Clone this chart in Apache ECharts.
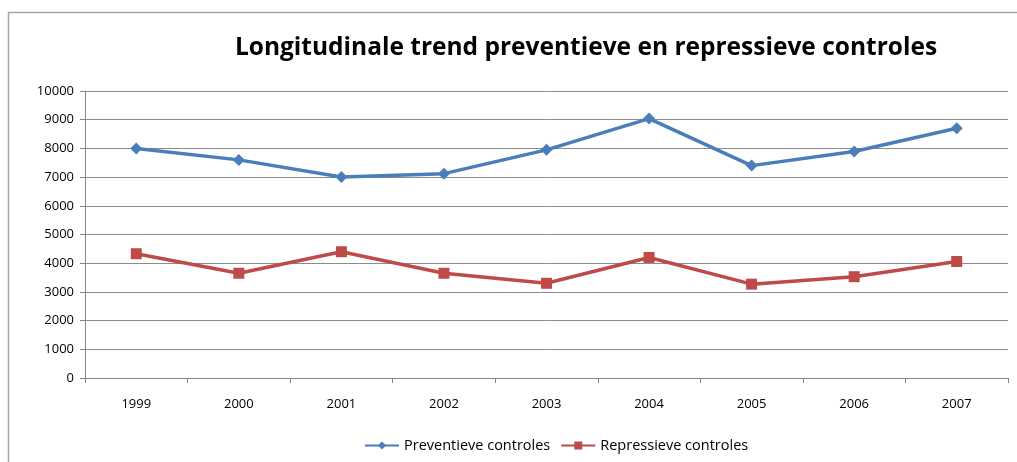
<!DOCTYPE html>
<html>
<head>
<meta charset="utf-8">
<script src="https://cdn.jsdelivr.net/npm/echarts@6/dist/echarts.min.js"></script>
<style>
  html, body { margin: 0; padding: 0; background: #fff; }
  #chart { width: 1017px; height: 462px; }
</style>
</head>
<body>
<div id="chart"></div>
<script>
// Years on the category axis
var years = ['1999', '2000', '2001', '2002', '2003', '2004', '2005', '2006', '2007'];
// Number of preventive checks per year
var preventieve = [8000, 7600, 7000, 7120, 7950, 9040, 7400, 7890, 8700];
// Number of repressive checks per year
var repressieve = [4330, 3650, 4400, 3650, 3300, 4200, 3270, 3530, 4060];

var titleText = 'Longitudinale trend preventieve en repressieve controles';
var seriesNames = ['Preventieve controles', 'Repressieve controles'];

var labelFont = '"Open Sans", "Noto Sans", sans-serif';

var chart = echarts.init(document.getElementById('chart'), null, { renderer: 'canvas' });

chart.setOption({
  animation: false,
  backgroundColor: '#ffffff',
  graphic: [{
    type: 'rect',
    shape: { x: 8.5, y: 12.5, width: 1020, height: 460 },
    style: { fill: 'none', stroke: '#a6a6a6', lineWidth: 1.5 },
    silent: true,
    z: -1
  }],
  title: {
    text: titleText,
    left: 581,
    top: 31,
    textAlign: 'center',
    textStyle: {
      fontFamily: '"Open Sans", sans-serif',
      fontWeight: 'bold',
      fontSize: 24.5,
      color: '#000000'
    }
  },
  legend: {
    bottom: 4,
    left: 359,
    itemWidth: 34,
    itemHeight: 10,
    itemGap: 10,
    textStyle: { fontFamily: labelFont, fontSize: 14.5, color: '#000' },
    data: seriesNames
  },
  grid: { left: 85, right: 9, top: 91, bottom: 84 },
  xAxis: {
    type: 'category',
    data: years,
    boundaryGap: true,
    axisLine: { lineStyle: { color: '#868686', width: 1 } },
    axisTick: { show: true, length: 5, interval: 0, lineStyle: { color: '#868686' } },
    axisLabel: { margin: 20, fontFamily: labelFont, fontSize: 13, color: '#000' },
    splitLine: { show: false }
  },
  yAxis: {
    type: 'value',
    min: 0,
    max: 10000,
    interval: 1000,
    axisLine: { show: true, lineStyle: { color: '#868686', width: 1 } },
    axisTick: { show: true, length: 5, lineStyle: { color: '#868686' } },
    axisLabel: {
      margin: 11,
      fontFamily: labelFont,
      fontSize: 13,
      color: '#000',
      formatter: function (v) { return String(v); }
    },
    splitLine: { show: true, lineStyle: { color: '#8c8c8c', width: 1 } }
  },
  series: [
    {
      name: seriesNames[0],
      type: 'line',
      data: preventieve,
      symbol: 'diamond',
      symbolSize: 12,
      color: '#4a7ebb',
      lineStyle: { width: 3.5, color: '#4a7ebb' },
      itemStyle: { color: '#4a7ebb' }
    },
    {
      name: seriesNames[1],
      type: 'line',
      data: repressieve,
      symbol: 'rect',
      symbolSize: 11,
      color: '#be4b48',
      lineStyle: { width: 3.5, color: '#be4b48' },
      itemStyle: { color: '#be4b48' }
    }
  ]
});
</script>
</body>
</html>
